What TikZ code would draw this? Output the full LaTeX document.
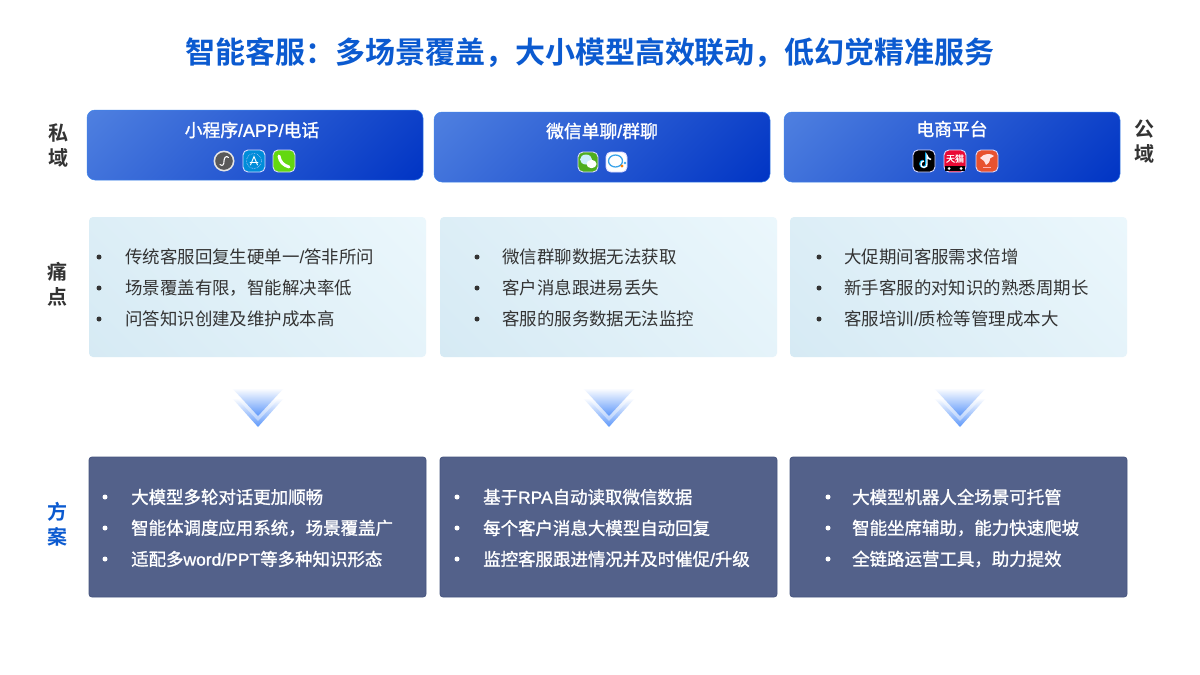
\documentclass[tikz,border=0pt]{standalone}
\usepackage{fontspec}
\setmainfont{Noto Sans CJK SC}[BoldFont={Noto Sans CJK SC Bold}]
\newfontfamily\latf{Liberation Sans}
\newfontfamily\medf{Noto Sans CJK SC}[FakeBold=1.3]
\newfontfamily\latm{Liberation Sans}[FakeBold=1.3]
\definecolor{titleblue}{HTML}{0B5AD0}
\definecolor{hleft}{HTML}{4F80E0}
\definecolor{hright}{HTML}{0034C4}
\definecolor{hedge}{HTML}{3E85EA}
\definecolor{painl}{HTML}{D6EAF4}
\definecolor{painr}{HTML}{EBF7FC}
\definecolor{sol}{HTML}{53618A}
\definecolor{soledge}{HTML}{46557F}
\definecolor{bodytxt}{HTML}{333333}
\definecolor{chev}{HTML}{5E98FA}
\newcommand{\lat}[1]{{\latf #1}}
\newcommand{\latb}[1]{{\latm #1}}
\pgfdeclarehorizontalshading{headgrad}{100bp}{color(0bp)=(hleft); color(14.6bp)=(hleft); color(85.4bp)=(hright); color(100bp)=(hright)}
\pgfdeclarehorizontalshading{paingrad}{100bp}{color(0bp)=(painl); color(14.6bp)=(painl); color(85.4bp)=(painr); color(100bp)=(painr)}
\tikzset{
  x=1pt,y=-1pt,
  headcard/.style={rounded corners=8pt,shading=headgrad,shading angle=-45,draw=hedge,line width=.5pt},
  paincard/.style={rounded corners=4pt,shading=paingrad,shading angle=45,draw=none},
  solcard/.style={rounded corners=3pt,fill=sol,draw=soledge,line width=.8pt},
  headtxt/.style={font=\fontsize{17.8}{20}\medf,text=white,inner sep=0pt},
  sidetxt/.style={font=\fontsize{20}{22}\selectfont\bfseries,text=bodytxt,inner sep=0pt},
  sideblue/.style={sidetxt,text=titleblue},
  paintxt/.style={font=\fontsize{17.45}{20}\selectfont,text=bodytxt,anchor=west,inner sep=0pt},
  soltxt/.style={font=\fontsize{17.45}{20}\medf,text=white,anchor=west,inner sep=0pt},
  bulletdark/.style={circle,fill=bodytxt,minimum size=5pt,inner sep=0pt},
  bulletwhite/.style={circle,fill=white,minimum size=5pt,inner sep=0pt},
  iconframe/.style={rounded corners=5pt,draw=white!85!blue,line width=.9pt},
}
\newcommand{\chevron}[1]{%
  \begin{scope}[xshift=#1]
    \shade[top color=white,bottom color=chev] (-26,398) -- (26,398) -- (0,427) -- cycle;
    \fill[white,opacity=.4] (-26,393) -- (26,393) -- (0,421) -- cycle;
    \shade[top color=white,bottom color=chev] (-26,388) -- (26,388) -- (0,416) -- cycle;
  \end{scope}}
\begin{document}
\begin{tikzpicture}
\useasboundingbox (0,0) rectangle (1200,675);
\fill[white] (0,0) rectangle (1200,675);

\node[font=\fontsize{30}{34}\selectfont\bfseries,text=titleblue,inner sep=0pt] (title) at (590,53) {智能客服：多场景覆盖，大小模型高效联动，低幻觉精准服务};

% side labels
\node[sidetxt] (s1) at (58,133) {私};
\node[sidetxt] (s2) at (58,158) {域};
\node[sidetxt] (g1) at (1144,129) {公};
\node[sidetxt] (g2) at (1144,154) {域};
\node[sidetxt] (p1) at (57,272) {痛};
\node[sidetxt] (p2) at (57,297) {点};
\node[sideblue] (f1) at (57,512) {方};
\node[sideblue] (f2) at (57,537) {案};

% header cards
\path[headcard] (87,110) rectangle (423,180);
\path[headcard] (434,112) rectangle (770,182);
\path[headcard] (784,112) rectangle (1120,182);
\node[headtxt] (h1) at (252,130) {小程序\latb{/APP/}电话};
\node[headtxt] (h2) at (602,131) {微信单聊\latb{/}群聊};
\node[headtxt] (h3) at (952,129) {电商平台};

% mini program icon
\fill[white!80!gray] (224,161) circle (10.5);
\fill[black!65] (224,161) circle (8.8);
\draw[white,line width=1.1pt,line cap=round] (220,164.5) .. controls (223,167) and (224,164) .. (224,161) .. controls (224,158) and (226,155) .. (228.5,157.5);
% app store icon
\path[iconframe,fill=blue!35!cyan!85!black] (243,150) rectangle (265,172);
\draw[white!80!blue,densely dotted,line width=.6pt] (254,161) circle (7.5);
\draw[white,line width=.9pt,line cap=round] (250.5,165) -- (254,156.5) -- (257.5,165) (250,162.5) -- (258,162.5);
% phone icon
\definecolor{phonegreen}{HTML}{63D810}
\path[iconframe,fill=phonegreen] (273,150) rectangle (295,172);
\draw[white,line width=3pt,line cap=round] (279,156) .. controls (280,162) and (283,165) .. (289,167);
% wechat
\definecolor{wxgreen}{HTML}{4FAE1E}
\path[iconframe,fill=wxgreen] (578,152) rectangle (598,172);
\fill[cyan!20!white] (586,159.5) ellipse (6 and 5);
\fill[white] (591.5,164) ellipse (5 and 4.2);
% enterprise wechat
\path[iconframe,fill=white] (606,152) rectangle (627,172);
\definecolor{ewblue}{HTML}{3DA5EA}
\draw[ewblue,line width=1.3pt] (615.5,161) ellipse (7 and 6);
\fill[orange] (622,166) circle (1.7);
\fill[ewblue] (625,163) circle (1.3);
% tiktok
\path[iconframe,fill=black] (913,150) rectangle (935,172);
\draw[cyan,line width=1.6pt] (923,160.5) .. controls (919,160.5) and (919,167) .. (923,167) .. controls (926,167) and (926,165) .. (926,163) -- (926,155) .. controls (926.5,157.5) and (928,158.5) .. (930,159);
\draw[white,line width=1.4pt] (924,161) .. controls (920,161) and (920,167.5) .. (924,167.5) .. controls (927,167.5) and (927,165.5) .. (927,163.5) -- (927,155.5) .. controls (927.5,158) and (929,159) .. (931,159.5);
% tmall
\definecolor{tmred}{HTML}{EA0A35}
\path[iconframe,fill=tmred] (944,150) rectangle (966,172);
\node[font=\fontsize{9}{10}\medf,text=white,inner sep=0pt] (tm) at (955,158.5) {天猫};
\fill[black] (945,166) rectangle (965,171.4);
\fill[white] (949,168.5) circle (1.5) (961,168.5) circle (1.5);
% orange app
\definecolor{appred}{HTML}{E8522F}
\path[iconframe,fill=appred] (976,150) rectangle (998,172);
\fill[white!90!red] (980,158) .. controls (984,153) and (991,153) .. (994,156) -- (990,158.5) .. controls (990,162) and (988,164) .. (986,165) -- (984,161) -- cycle;
\fill[white!70!red] (983,167) rectangle (991,168.3);

% pain cards
\path[paincard] (89,217) rectangle (426,357);
\path[paincard] (440,217) rectangle (777,357);
\path[paincard] (790,217) rectangle (1127,357);
\foreach \nm/\bx/\tx/\a/\b/\c in {
 a/99/125/{传统客服回复生硬单一\lat{/}答非所问}/{场景覆盖有限，智能解决率低}/{问答知识创建及维护成本高},
 b/477/502/{微信群聊数据无法获取}/{客户消息跟进易丢失}/{客服的服务数据无法监控},
 c/819/844/{大促期间客服需求倍增}/{新手客服的对知识的熟悉周期长}/{客服培训\lat{/}质检等管理成本大}}{
  \node[bulletdark] (bp\nm1) at (\bx,257) {};
  \node[bulletdark] (bp\nm2) at (\bx,288) {};
  \node[bulletdark] (bp\nm3) at (\bx,319) {};
  \node[paintxt] (tp\nm1) at (\tx,257) {\a};
  \node[paintxt] (tp\nm2) at (\tx,288) {\b};
  \node[paintxt] (tp\nm3) at (\tx,319) {\c};
}

% chevrons
\chevron{258}
\chevron{609}
\chevron{960}

% solution cards
\path[solcard] (89,457) rectangle (426,597);
\path[solcard] (440,457) rectangle (777,597);
\path[solcard] (790,457) rectangle (1127,597);
\foreach \nm/\bx/\tx/\a/\b/\c in {
 a/105/131/{大模型多轮对话更加顺畅}/{智能体调度应用系统，场景覆盖广}/{适配多\latb{word/PPT}等多种知识形态},
 b/457/483/{基于\latb{RPA}自动读取微信数据}/{每个客户消息大模型自动回复}/{监控客服跟进情况并及时催促\latb{/}升级},
 c/828/852/{大模型机器人全场景可托管}/{智能坐席辅助，能力快速爬坡}/{全链路运营工具，助力提效}}{
  \node[bulletwhite] (bs\nm1) at (\bx,497) {};
  \node[bulletwhite] (bs\nm2) at (\bx,528) {};
  \node[bulletwhite] (bs\nm3) at (\bx,559) {};
  \node[soltxt] (ts\nm1) at (\tx,497) {\a};
  \node[soltxt] (ts\nm2) at (\tx,528) {\b};
  \node[soltxt] (ts\nm3) at (\tx,559) {\c};
}
\end{tikzpicture}
\end{document}
